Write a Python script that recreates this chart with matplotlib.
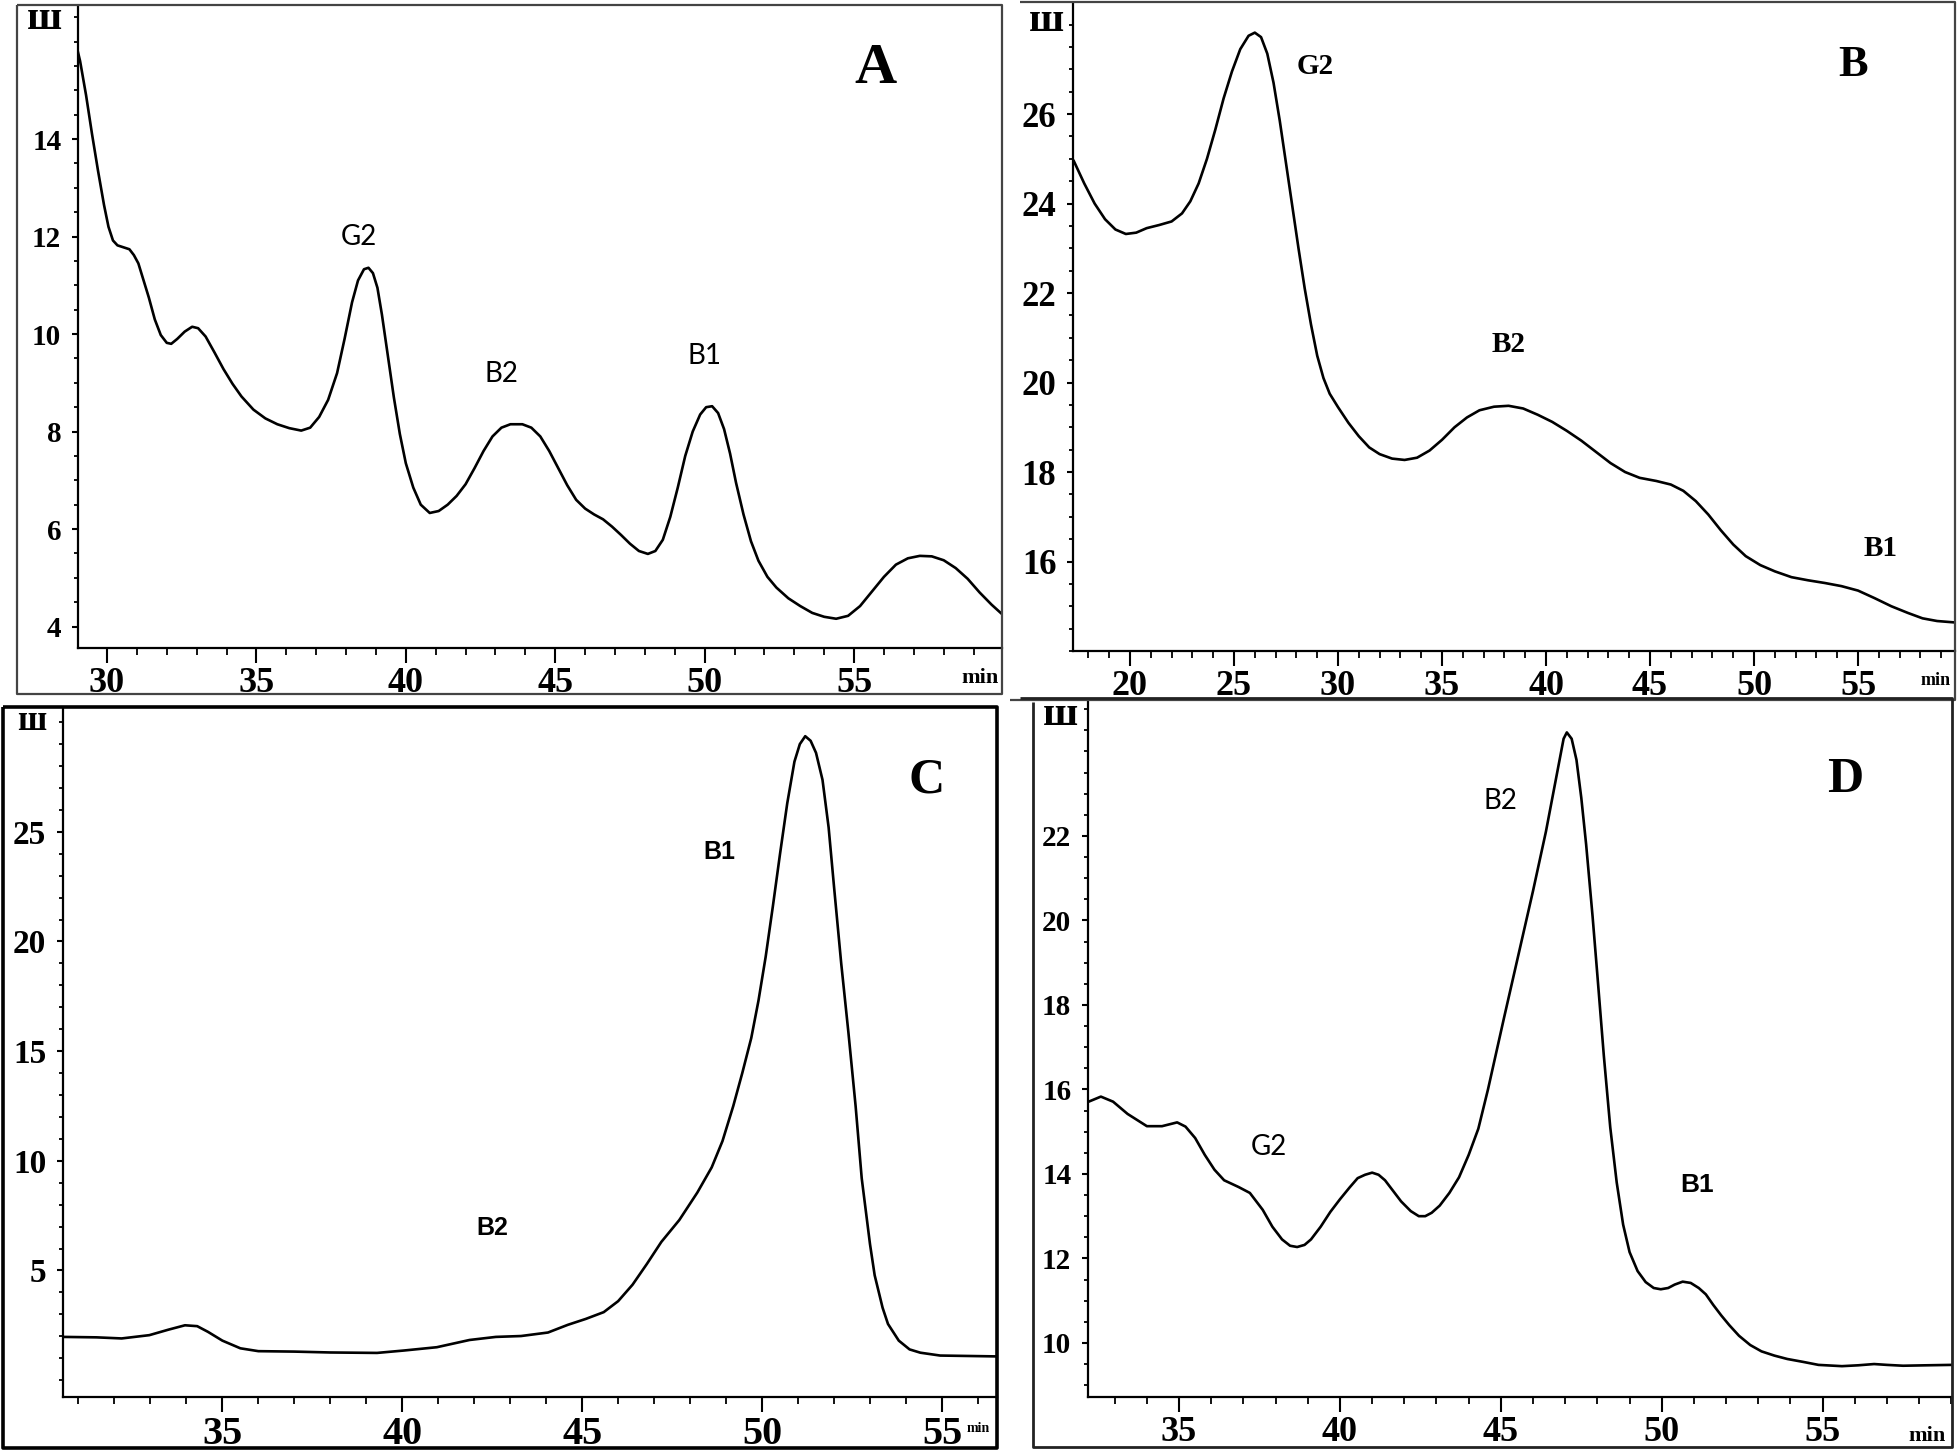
import numpy as np
import matplotlib.pyplot as plt
from matplotlib.ticker import MultipleLocator
from matplotlib.lines import Line2D

W, H = 1959, 1454

# panel A
a_time = [28.95, 29.1, 29.3, 29.5, 29.7, 29.9, 30.05, 30.2, 30.35, 30.55, 30.75, 30.9,
          31.05, 31.2, 31.4, 31.6, 31.8, 32.0, 32.15, 32.35, 32.6, 32.85, 33.05, 33.3,
          33.6, 33.9, 34.2, 34.5, 34.9, 35.3, 35.7, 36.1, 36.5, 36.8, 37.1, 37.4, 37.7,
          37.95, 38.2, 38.4, 38.6, 38.75, 38.9, 39.05, 39.2, 39.4, 39.6, 39.8, 40.0,
          40.25, 40.5, 40.8, 41.1, 41.4, 41.7, 42.0, 42.3, 42.6, 42.9, 43.2, 43.5, 43.9,
          44.2, 44.5, 44.8, 45.1, 45.4, 45.7, 46.0, 46.3, 46.6, 46.9, 47.2, 47.5, 47.8,
          48.1, 48.35, 48.6, 48.85, 49.1, 49.35, 49.6, 49.85, 50.05, 50.25, 50.45, 50.65,
          50.85, 51.05, 51.3, 51.55, 51.8, 52.1, 52.4, 52.8, 53.2, 53.6, 54.0, 54.4,
          54.8, 55.2, 55.6, 56.0, 56.4, 56.8, 57.2, 57.6, 58.0, 58.4, 58.8, 59.2, 59.6,
          59.96]
a_signal = [15.99, 15.6, 14.9, 14.1, 13.35, 12.65, 12.2, 11.92, 11.82, 11.78, 11.74, 11.62,
            11.45, 11.15, 10.75, 10.3, 9.98, 9.82, 9.8, 9.9, 10.05, 10.15, 10.12, 9.95,
            9.62, 9.28, 8.98, 8.72, 8.45, 8.27, 8.15, 8.07, 8.02, 8.08, 8.3, 8.65, 9.2,
            9.9, 10.65, 11.1, 11.33, 11.36, 11.25, 10.95, 10.4, 9.55, 8.7, 7.95, 7.35,
            6.85, 6.5, 6.33, 6.37, 6.5, 6.68, 6.92, 7.25, 7.6, 7.9, 8.08, 8.15, 8.15,
            8.08, 7.9, 7.6, 7.25, 6.9, 6.6, 6.42, 6.3, 6.2, 6.05, 5.88, 5.7, 5.55,
            5.49, 5.55, 5.78, 6.25, 6.85, 7.5, 8.0, 8.35, 8.5, 8.52, 8.38, 8.05,
            7.55, 6.95, 6.3, 5.75, 5.35, 5.02, 4.8, 4.58, 4.42, 4.28, 4.2, 4.16,
            4.22, 4.42, 4.72, 5.02, 5.27, 5.4, 5.45, 5.44, 5.36, 5.2, 4.98, 4.7, 4.45,
            4.25]

# panel B
b_time = [17.3, 17.8, 18.3, 18.8, 19.3, 19.8, 20.3, 20.8, 21.4, 22.0, 22.5, 22.9, 23.3,
          23.7, 24.1, 24.5, 24.9, 25.3, 25.7, 26.0, 26.3, 26.6, 26.9, 27.2, 27.5, 27.8,
          28.1, 28.4, 28.7, 29.0, 29.3, 29.6, 30.0, 30.5, 31.0, 31.5, 32.0, 32.6, 33.2,
          33.8, 34.4, 35.0, 35.6, 36.2, 36.8, 37.5, 38.2, 38.9, 39.6, 40.3, 41.0, 41.7,
          42.4, 43.1, 43.8, 44.5, 45.3, 46.0, 46.6, 47.2, 47.8, 48.4, 49.0, 49.6, 50.3,
          51.0, 51.8, 52.6, 53.4, 54.2, 55.0, 55.8, 56.6, 57.4, 58.1, 58.8, 59.6]
b_signal = [24.95, 24.45, 24.0, 23.65, 23.42, 23.32, 23.35, 23.45, 23.52, 23.6, 23.78,
            24.05, 24.45, 25.0, 25.65, 26.35, 26.95, 27.45, 27.75, 27.82, 27.72, 27.35,
            26.7, 25.85, 24.9, 23.95, 23.0, 22.1, 21.3, 20.6, 20.1, 19.75, 19.45, 19.1,
            18.8, 18.55, 18.4, 18.3, 18.27, 18.32, 18.48, 18.72, 19.0, 19.22, 19.38,
            19.46, 19.48, 19.42, 19.28, 19.12, 18.92, 18.7, 18.45, 18.2, 18.0, 17.87,
            17.8, 17.72, 17.58, 17.35, 17.05, 16.7, 16.38, 16.12, 15.92, 15.78, 15.65,
            15.58, 15.52, 15.45, 15.35, 15.18, 15.0, 14.85, 14.73, 14.67, 14.64]

# panel C
c_time = [30.57, 31.5, 32.2, 32.97, 33.5, 33.96, 34.3, 34.6, 35.0, 35.5, 36.0, 37.0, 38.0,
          39.3, 40.05, 40.96, 41.87, 42.6, 43.3, 44.05, 44.6, 45.1, 45.6, 46.0, 46.4,
          46.8, 47.2, 47.7, 48.2, 48.6, 48.9, 49.2, 49.45, 49.7, 49.9, 50.1, 50.3, 50.5,
          50.7, 50.9, 51.05, 51.2, 51.35, 51.5, 51.68, 51.85, 52.0, 52.2, 52.4, 52.6,
          52.77, 53.0, 53.13, 53.35, 53.5, 53.8, 54.1, 54.4, 54.95, 56.55]
c_signal = [1.97, 1.95, 1.9, 2.05, 2.3, 2.5, 2.46, 2.2, 1.8, 1.45, 1.32, 1.3, 1.26,
            1.24, 1.35, 1.5, 1.83, 1.97, 2.01, 2.17, 2.52, 2.79, 3.1, 3.6, 4.35,
            5.3, 6.3, 7.3, 8.55, 9.7, 10.9, 12.5, 14.0, 15.6, 17.3, 19.3, 21.6, 24.0,
            26.3, 28.2, 29.0, 29.36, 29.15, 28.6, 27.37, 25.2, 22.5, 19.0, 15.85, 12.5,
            9.2, 6.2, 4.78, 3.3, 2.56, 1.8, 1.4, 1.25, 1.12, 1.08]

# panel D
d_time = [32.19, 32.57, 32.95, 33.4, 34.0, 34.47, 34.94, 35.2, 35.5, 35.8, 36.1, 36.4,
          36.85, 37.2, 37.6, 37.9, 38.2, 38.45, 38.67, 38.9, 39.1, 39.4, 39.7, 40.0, 40.3,
          40.55, 40.78, 41.0, 41.2, 41.4, 41.6, 41.9, 42.2, 42.45, 42.65, 42.85, 43.1,
          43.4, 43.7, 44.0, 44.3, 44.6, 44.85, 45.1, 45.55, 46.0, 46.4, 46.6, 46.8,
          46.95, 47.05, 47.2, 47.35, 47.5, 47.65, 47.85, 48.0, 48.2, 48.4, 48.6, 48.8,
          49.0, 49.25, 49.5, 49.75, 49.97, 50.2, 50.4, 50.65, 50.9, 51.15, 51.37, 51.6,
          51.85, 52.1, 52.4, 52.75, 53.1, 53.5, 53.9, 54.4, 54.87, 55.6, 56.1, 56.6,
          57.0, 57.5, 58.2, 59.0]
d_signal = [15.71, 15.83, 15.71, 15.42, 15.13, 15.13, 15.22, 15.12, 14.85, 14.45, 14.1,
            13.85, 13.69, 13.55, 13.15, 12.75, 12.45, 12.3, 12.27, 12.32, 12.45, 12.75,
            13.1, 13.4, 13.68, 13.9, 13.98, 14.03, 13.98, 13.85, 13.65, 13.35, 13.12,
            13.0, 13.0, 13.08, 13.25, 13.55, 13.92, 14.45, 15.07, 16.0, 16.85, 17.7,
            19.2, 20.7, 22.1, 22.9, 23.7, 24.3, 24.45, 24.3, 23.8, 22.9, 21.8, 20.1,
            18.7, 16.8, 15.1, 13.8, 12.8, 12.15, 11.7, 11.44, 11.3, 11.27, 11.3, 11.38,
            11.45, 11.42, 11.3, 11.15, 10.9, 10.65, 10.42, 10.17, 9.95, 9.8, 9.7, 9.62,
            9.55, 9.48, 9.45, 9.47, 9.5, 9.48, 9.46, 9.47, 9.48]

SERIF = 'Liberation Serif'
SANS = 'Lato'

fig = plt.figure(figsize=(W / 100, H / 100), dpi=100)


def rect(left, top, right, bottom):
    return [left / W, 1 - bottom / H, (right - left) / W, (bottom - top) / H]


def line(xs, ys, lw=1.5, color='#444444'):
    fig.add_artist(Line2D([x / W for x in xs], [1 - y / H for y in ys],
                          transform=fig.transFigure, color=color, lw=lw,
                          solid_capstyle='butt'))


def label(x, y, s, size, family=SERIF, weight='bold', ha='center'):
    fig.text(x / W, 1 - y / H, s, fontsize=size, family=family, weight=weight,
             ha=ha, va='center')


def panel(box, t, s, xlim, ylim, xticks, yticks, xminor, yminor, xsize, ysize):
    ax = fig.add_axes(rect(*box))
    ax.plot(t, s, color='black', lw=1.9, solid_joinstyle='round')
    ax.set_xlim(xlim)
    ax.set_ylim(ylim)
    ax.spines['top'].set_visible(False)
    ax.spines['right'].set_visible(False)
    for sp in ['left', 'bottom']:
        ax.spines[sp].set_linewidth(1.6)
    ax.set_xticks(xticks)
    ax.set_xticklabels([str(v) for v in xticks], fontsize=xsize, family=SERIF,
                       weight='bold')
    ax.set_yticks(yticks)
    ax.set_yticklabels([str(v) for v in yticks], fontsize=ysize, family=SERIF,
                       weight='bold')
    ax.xaxis.set_minor_locator(MultipleLocator(xminor))
    ax.yaxis.set_minor_locator(MultipleLocator(yminor))
    ax.tick_params(axis='x', which='major', length=11, width=1.5, pad=3)
    ax.tick_params(axis='x', which='minor', length=5, width=1.3)
    ax.tick_params(axis='y', which='major', length=4, width=1.5, pad=8)
    ax.tick_params(axis='y', which='minor', length=3, width=1.3)
    ax.patch.set_alpha(0)
    return ax


# A
panel((78, 6, 1002, 648), a_time, a_signal, (29.03, 59.95), (3.56, 16.73),
      [30, 35, 40, 45, 50, 55], [4, 6, 8, 10, 12, 14], 1, 0.5, 26, 21)
line([17, 1002, 1002, 17, 17], [5, 5, 694, 694, 5], lw=1.6)
label(45, 19, 'ш', 30)
label(875, 69, 'A', 42)
label(980, 678, 'min', 16)
label(359, 237, 'G2', 20, SANS, 'normal')
label(501, 374, 'B2', 20, SANS, 'normal')
label(705, 356, 'B1', 20, SANS, 'normal')

# B
panel((1073, 4, 1955, 651), b_time, b_signal, (17.26, 59.66), (14.0, 28.46),
      [20, 25, 30, 35, 40, 45, 50, 55], [16, 18, 20, 22, 24, 26], 1, 0.5, 26, 25)
line([1020, 1955, 1955, 1010], [2, 2, 700, 700], lw=1.6)
label(1047, 21, 'ш', 30)
label(1853, 65, 'B', 32)
label(1936, 680, 'min', 13)
label(1315, 67, 'G2', 21)
label(1509, 344, 'B2', 21)
label(1881, 549, 'B1', 21)

# C
panel((63, 709, 997, 1397), c_time, c_signal, (30.57, 56.53), (-0.77, 30.6),
      [35, 40, 45, 50, 55], [5, 10, 15, 20, 25], 1, 1, 29, 24)
line([3, 997, 997, 3, 3], [707, 707, 1448, 1448, 707], lw=2.6, color='black')
label(32, 721, 'ш', 25)
label(927, 780, 'C', 36)
label(978, 1428, 'min', 10)
label(719, 852, 'B1', 18, 'Liberation Sans', 'bold')
label(492, 1228, 'B2', 18, 'Liberation Sans', 'bold')

# D
panel((1088, 702, 1952, 1397), d_time, d_signal, (32.17, 59.02), (8.72, 25.17),
      [35, 40, 45, 50, 55], [10, 12, 14, 16, 18, 20, 22], 1, 0.5, 26, 21)
line([1020, 1952, 1952, 1033, 1033], [698, 698, 1447, 1447, 702], lw=2.0, color='#222222')
label(1060, 715, 'ш', 30)
label(1845, 780, 'D', 36)
label(1927, 1436, 'min', 16)
label(1500, 801, 'B2', 20, SANS, 'normal')
label(1269, 1147, 'G2', 20, SANS, 'normal')
label(1697, 1185, 'B1', 19, 'Liberation Sans', 'bold')

fig.savefig('out.png', dpi=100)
